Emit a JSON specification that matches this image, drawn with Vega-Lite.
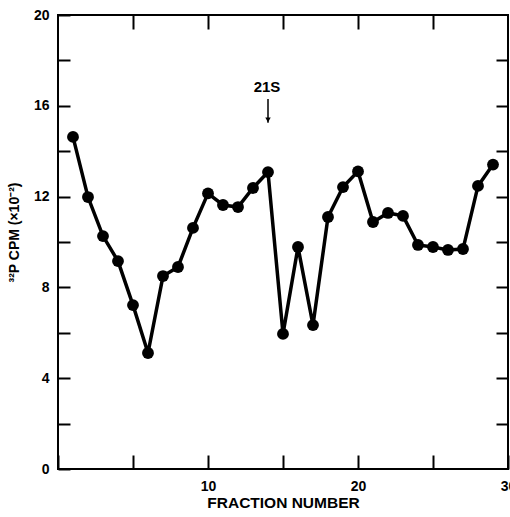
{
  "$schema": "https://vega.github.io/schema/vega-lite/v6.json",
  "width": 450,
  "height": 454,
  "autosize": {"type": "none"},
  "padding": {"left": 58, "top": 15, "right": 2, "bottom": 48},
  "config": {
    "view": {"stroke": "black", "strokeWidth": 2},
    "font": "Liberation Sans",
    "axis": {
      "domain": false,
      "grid": false,
      "tickColor": "black",
      "tickWidth": 2,
      "labelColor": "black",
      "labelFont": "Liberation Sans",
      "labelFontWeight": "bold",
      "labelFontSize": 14,
      "titleFont": "Liberation Sans",
      "titleFontWeight": "bold",
      "titleColor": "black",
      "labelFlush": false,
      "labelOverlap": false
    }
  },
  "datasets": {
    "fractions": [
      {"fraction": 1, "cpm": 14.63},
      {"fraction": 2, "cpm": 11.98},
      {"fraction": 3, "cpm": 10.26},
      {"fraction": 4, "cpm": 9.16},
      {"fraction": 5, "cpm": 7.22},
      {"fraction": 6, "cpm": 5.11},
      {"fraction": 7, "cpm": 8.5},
      {"fraction": 8, "cpm": 8.9},
      {"fraction": 9, "cpm": 10.62},
      {"fraction": 10, "cpm": 12.14},
      {"fraction": 11, "cpm": 11.63},
      {"fraction": 12, "cpm": 11.54},
      {"fraction": 13, "cpm": 12.38},
      {"fraction": 14, "cpm": 13.08},
      {"fraction": 15, "cpm": 5.95},
      {"fraction": 16, "cpm": 9.78},
      {"fraction": 17, "cpm": 6.34},
      {"fraction": 18, "cpm": 11.1},
      {"fraction": 19, "cpm": 12.42},
      {"fraction": 20, "cpm": 13.11},
      {"fraction": 21, "cpm": 10.88},
      {"fraction": 22, "cpm": 11.28},
      {"fraction": 23, "cpm": 11.15},
      {"fraction": 24, "cpm": 9.87},
      {"fraction": 25, "cpm": 9.78},
      {"fraction": 26, "cpm": 9.65},
      {"fraction": 27, "cpm": 9.69},
      {"fraction": 28, "cpm": 12.47},
      {"fraction": 29, "cpm": 13.41}
    ],
    "marker": [
      {"fraction": 14, "top": 16.3, "bottom": 15.25, "head": 15.38, "label_y": 16.82, "label": "21S"}
    ]
  },
  "layer": [
    {
      "data": {"name": "fractions"},
      "mark": {"type": "line", "color": "black", "strokeWidth": 3.5},
      "encoding": {
        "x": {
          "field": "fraction", "type": "quantitative",
          "scale": {"domain": [0, 30], "nice": false, "zero": false},
          "axis": {
            "orient": "bottom",
            "values": [0, 5, 10, 15, 20, 25, 30],
            "labelExpr": "datum.value % 10 === 0 && datum.value > 0 ? datum.label : ''",
            "tickSize": -14,
            "labelPadding": 24,
            "title": "FRACTION NUMBER",
            "titleFontSize": 15.5,
            "titleY": 33,
            "titleBaseline": "middle"
          }
        },
        "y": {
          "field": "cpm", "type": "quantitative",
          "scale": {"domain": [0, 20], "nice": false},
          "axis": {
            "orient": "left",
            "values": [0, 2, 4, 6, 8, 10, 12, 14, 16, 18, 20],
            "labelExpr": "datum.value % 4 === 0 ? datum.label : ''",
            "tickSize": -12,
            "labelPadding": 21,
            "title": "³²P CPM (×10⁻²)",
            "titleFontSize": 14,
            "titleX": -44,
            "titleY": 217,
            "titleAngle": -90,
            "titleBaseline": "middle",
            "titleAlign": "center"
          }
        }
      }
    },
    {
      "data": {"name": "fractions"},
      "mark": {"type": "point", "filled": true, "color": "black", "size": 140, "opacity": 1},
      "encoding": {
        "x": {
          "field": "fraction", "type": "quantitative",
          "axis": {"orient": "top", "values": [5, 10, 15, 20, 25], "labels": false, "tickSize": -14, "title": null}
        },
        "y": {
          "field": "cpm", "type": "quantitative",
          "axis": {"orient": "right", "values": [2, 4, 6, 8, 10, 12, 14, 16, 18], "labels": false, "tickSize": -12, "title": null}
        }
      }
    },
    {
      "data": {"name": "marker"},
      "mark": {"type": "rule", "color": "black", "strokeWidth": 1.5},
      "encoding": {
        "x": {"field": "fraction", "type": "quantitative", "axis": null},
        "y": {"field": "top", "type": "quantitative", "axis": null},
        "y2": {"field": "bottom"}
      }
    },
    {
      "data": {"name": "marker"},
      "mark": {"type": "point", "shape": "triangle-down", "filled": true, "color": "black", "size": 30, "opacity": 1},
      "encoding": {
        "x": {"field": "fraction", "type": "quantitative", "axis": null},
        "y": {"field": "head", "type": "quantitative", "axis": null}
      }
    },
    {
      "data": {"name": "marker"},
      "mark": {"type": "text", "color": "black", "fontSize": 15, "fontWeight": "bold", "font": "Liberation Sans", "baseline": "middle", "align": "center", "dx": -1},
      "encoding": {
        "x": {"field": "fraction", "type": "quantitative", "axis": null},
        "y": {"field": "label_y", "type": "quantitative", "axis": null},
        "text": {"field": "label"}
      }
    }
  ],
  "resolve": {"axis": {"x": "independent", "y": "independent"}}
}
